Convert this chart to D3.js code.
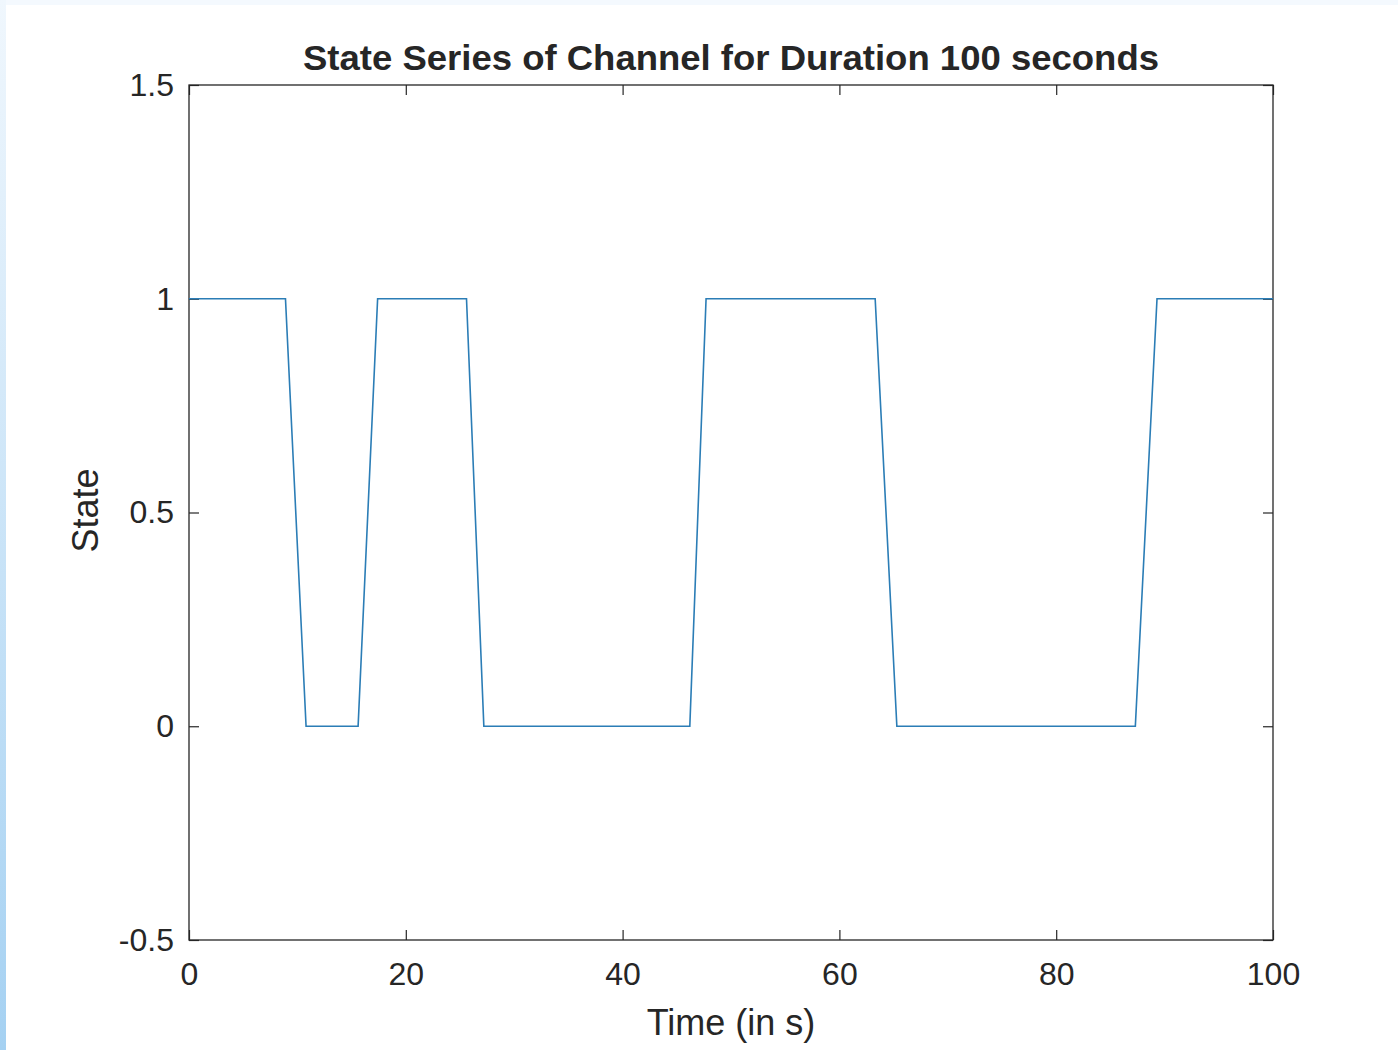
<!DOCTYPE html>
<html>
<head>
<meta charset="utf-8">
<script src="https://cdn.jsdelivr.net/npm/d3@7"></script>
<style>
  html, body { margin: 0; padding: 0; background: #fff; }
  #chart { width: 1398px; height: 1050px; }
  text { font-family: "Liberation Sans", Arial, Helvetica, sans-serif; fill: #262626; }
</style>
</head>
<body>
<div id="chart"></div>
<script>
// state series
var times  = [0, 8.9, 10.8, 15.6, 17.4, 25.6, 27.2, 46.2, 47.7, 63.3, 65.3, 87.3, 89.3, 100];
var states = [1, 1,   0,    0,    1,    1,    0,    0,    1,    1,    0,    0,    1,    1];
var xTicks = [0, 20, 40, 60, 80, 100];
var yTicks = [-0.5, 0, 0.5, 1, 1.5];

var W = 1398, H = 1050;
var margin = { top: 85, right: 125, bottom: 110, left: 189 },
    width = W - margin.left - margin.right,
    height = H - margin.top - margin.bottom;

var svg = d3.select("#chart").append("svg")
    .attr("width", W)
    .attr("height", H);

// window frame: pale strip on top, blue gradient strip on the left
var defs = svg.append("defs");
var grad = defs.append("linearGradient")
    .attr("id", "edge")
    .attr("x1", 0).attr("y1", 0).attr("x2", 0).attr("y2", 1);
grad.append("stop").attr("offset", "0%").attr("stop-color", "#f0f7fd");
grad.append("stop").attr("offset", "100%").attr("stop-color", "#a5d1f2");

svg.append("rect").attr("x", 0).attr("y", 0).attr("width", W).attr("height", 5).attr("fill", "#f4f9fe");
svg.append("rect").attr("x", 0).attr("y", 0).attr("width", 6).attr("height", H).attr("fill", "url(#edge)");

var g = svg.append("g")
    .attr("transform", "translate(" + margin.left + "," + margin.top + ")");

var x = d3.scaleLinear().domain([0, 100]).range([0, width]);
var y = d3.scaleLinear().domain([-0.5, 1.5]).range([height, 0]);

var axisColor = "#262626";
var tickLen = 10;

function styleAxis(sel) {
    sel.select(".domain").remove();
    sel.selectAll(".tick line").attr("stroke", axisColor).attr("stroke-width", 1.2);
    sel.selectAll(".tick text")
        .style("font-size", "32px")
        .attr("fill", axisColor);
}

// bottom
g.append("g")
    .attr("transform", "translate(0," + height + ")")
    .call(d3.axisBottom(x).tickValues(xTicks).tickSizeInner(-tickLen).tickSizeOuter(0).tickPadding(22))
    .call(styleAxis);
// top (mirrored ticks)
g.append("g")
    .call(d3.axisTop(x).tickValues(xTicks).tickSizeInner(-tickLen).tickSizeOuter(0).tickFormat(""))
    .call(styleAxis);
// left
g.append("g")
    .call(d3.axisLeft(y).tickValues(yTicks).tickSizeInner(-tickLen).tickSizeOuter(0).tickPadding(15)
        .tickFormat(function (d) { return d3.format("")(d).replace("\u2212", "-"); }))
    .call(styleAxis);
// right
g.append("g")
    .attr("transform", "translate(" + width + ",0)")
    .call(d3.axisRight(y).tickValues(yTicks).tickSizeInner(-tickLen).tickSizeOuter(0).tickFormat(""))
    .call(styleAxis);

// box
g.append("rect")
    .attr("width", width)
    .attr("height", height)
    .attr("fill", "none")
    .attr("stroke", axisColor)
    .attr("stroke-width", 1.3);

// the state line
var pts = times.map(function (t, i) { return [t, states[i]]; });
var line = d3.line()
    .x(function (d) { return x(d[0]); })
    .y(function (d) { return y(d[1]); });

g.append("path")
    .datum(pts)
    .attr("fill", "none")
    .attr("stroke", "#2b7db6")
    .attr("stroke-width", 1.6)
    .attr("d", line);

// title
svg.append("text")
    .attr("x", margin.left + width / 2)
    .attr("y", 70)
    .attr("text-anchor", "middle")
    .style("font-size", "35px")
    .style("font-weight", "bold")
    .attr("fill", "#000")
    .attr("textLength", 856)
    .attr("lengthAdjust", "spacingAndGlyphs")
    .text("State Series of Channel for Duration 100 seconds");

// axis labels
svg.append("text")
    .attr("x", margin.left + width / 2)
    .attr("y", 1035)
    .attr("text-anchor", "middle")
    .style("font-size", "36px")
    .text("Time (in s)");

svg.append("text")
    .attr("transform", "translate(98," + (margin.top + height / 2 - 2) + ")rotate(-90)")
    .attr("text-anchor", "middle")
    .style("font-size", "36px")
    .text("State");
</script>
</body>
</html>
